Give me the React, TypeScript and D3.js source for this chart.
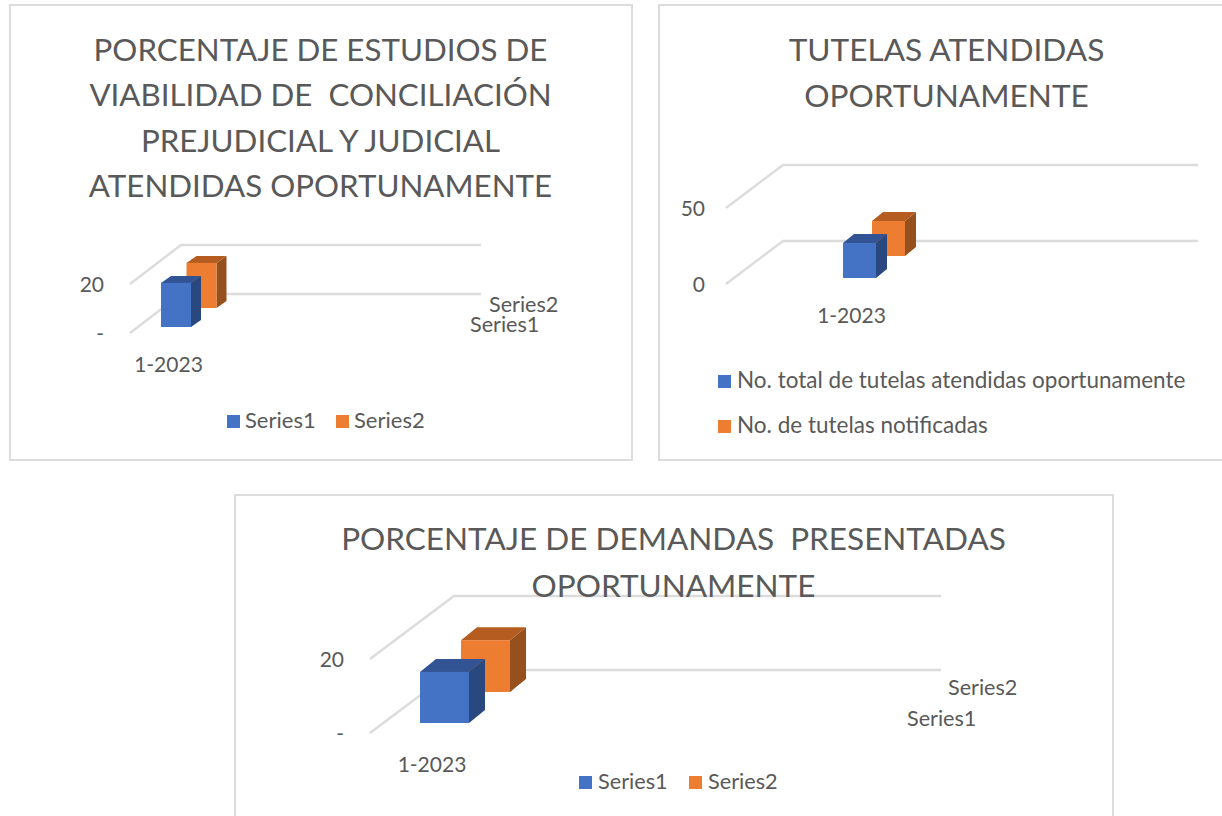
import React from "react";
import * as d3 from "d3";

const categories = ["1-2023"];
const seriesNames1 = ["Series1", "Series2"];
const seriesNames2 = ["No. total de tutelas atendidas oportunamente", "No. de tutelas notificadas"];
const values1 = [18, 18.4];
const values2 = [23, 23];
const values3 = [13.8, 14];
const ticks1 = [0, 20];
const tickLabels1 = ["-", "20"];
const ticks2 = [0, 50];
const tickLabels2 = ["0", "50"];
const ticks3 = [0, 20];
const tickLabels3 = ["-", "20"];
const title1 = ["PORCENTAJE DE ESTUDIOS DE", "VIABILIDAD DE  CONCILIACIÓN", "PREJUDICIAL Y JUDICIAL", "ATENDIDAS OPORTUNAMENTE"];
const title2 = ["TUTELAS ATENDIDAS", "OPORTUNAMENTE"];
const title3 = ["PORCENTAJE DE DEMANDAS  PRESENTADAS", "OPORTUNAMENTE"];

const COLORS = [
  { front: "#4472c4", top: "#325494", side: "#2a4880" },
  { front: "#ed7d31", top: "#b55d21", side: "#96501d" },
];
const FONT = "Lato, Carlito, 'Open Sans', sans-serif";
const GREY = "#595959";
const GRID = "#dcdcdc";

type Cfg = {
  frame: [number, number, number, number];
  title: string[];
  titleCx: number;
  titleY: number;
  titleStep: number;
  titleSize: number;
  values: number[];
  ticks: number[];
  tickLabels: string[];
  tickX: number;
  x0: number;
  yBottom: number;
  yTop: number;
  depthX: number;
  depthY: number;
  xRight: number;
  barX: [number, number];
  barW: number;
  barDepth: [number, number];
  barStep: [number, number];
  floorGap: number;
  catX: number;
  catY: number;
  axisSize: number;
  legendSize: number;
  floating: { t: string; x: number; y: number }[];
  legend: { x: number; y: number; textX: number; name: string; c: number }[];
};

const charts: Cfg[] = [
  {
    frame: [10, 5, 622, 455], title: title1, titleCx: 320.5, titleY: 61, titleStep: 45.4, titleSize: 31.3,
    values: values1, ticks: ticks1, tickLabels: tickLabels1, tickX: 104,
    x0: 130, yBottom: 333, yTop: 284, depthX: 51, depthY: 39, xRight: 481,
    barX: [161, 186.5], barW: 30, barDepth: [10, 7], barStep: [26, 19], floorGap: 6,
    catX: 168.5, catY: 372, axisSize: 21, legendSize: 22,
    floating: [{ t: "Series2", x: 489, y: 312 }, { t: "Series1", x: 470, y: 332 }],
    legend: [
      { x: 227, y: 415, textX: 245, name: seriesNames1[0], c: 0 },
      { x: 336, y: 415, textX: 354, name: seriesNames1[1], c: 1 },
    ],
  },
  {
    frame: [659, 5, 570, 455], title: title2, titleCx: 946.5, titleY: 61, titleStep: 46, titleSize: 31.6,
    values: values2, ticks: ticks2, tickLabels: tickLabels2, tickX: 705,
    x0: 726, yBottom: 284, yTop: 208, depthX: 57, depthY: 43, xRight: 1198,
    barX: [843, 872], barW: 33, barDepth: [11, 9], barStep: [29, 22], floorGap: 6,
    catX: 851.5, catY: 323, axisSize: 21, legendSize: 22.5,
    floating: [],
    legend: [
      { x: 718, y: 375, textX: 737, name: seriesNames2[0], c: 0 },
      { x: 718, y: 420, textX: 737, name: seriesNames2[1], c: 1 },
    ],
  },
  {
    frame: [235, 495, 878, 340], title: title3, titleCx: 673.5, titleY: 550, titleStep: 46.5, titleSize: 31.5,
    values: values3, ticks: ticks3, tickLabels: tickLabels3, tickX: 344,
    x0: 370, yBottom: 733, yTop: 659, depthX: 84, depthY: 63, xRight: 941,
    barX: [420, 461], barW: 49, barDepth: [16, 13], barStep: [41, 31], floorGap: 10,
    catX: 432, catY: 772, axisSize: 21, legendSize: 21.7,
    floating: [{ t: "Series2", x: 948, y: 695 }, { t: "Series1", x: 907, y: 726 }],
    legend: [
      { x: 579, y: 776, textX: 598, name: seriesNames1[0], c: 0 },
      { x: 689, y: 776, textX: 708, name: seriesNames1[1], c: 1 },
    ],
  },
];

function Chart({ c }: { c: Cfg }) {
  const y = d3.scaleLinear().domain(c.ticks).range([c.yBottom, c.yTop]);
  const line = d3.line();
  const unit = c.yBottom - y(1);
  return (
    <g fontFamily={FONT}>
      <rect x={c.frame[0]} y={c.frame[1]} width={c.frame[2]} height={c.frame[3]} fill="#fff" stroke="#dcdcdc" strokeWidth={2} />
      {c.ticks.map((t, i) => {
        const yy = y(t);
        return (
          <g key={t}>
            <path
              d={line([[c.x0, yy], [c.x0 + c.depthX, yy - c.depthY], [c.xRight, yy - c.depthY]]) as string}
              fill="none" stroke={GRID} strokeWidth={2.4}
            />
            <text x={c.tickX} y={yy + 8} textAnchor="end" fontSize={c.axisSize} fill={GREY}>{c.tickLabels[i]}</text>
          </g>
        );
      })}
      {[1, 0].map((s) => {
        const col = COLORS[s];
        const left = c.barX[s];
        const right = left + c.barW;
        const base = c.yBottom - c.floorGap - (s === 1 ? c.barStep[1] : 0);
        const top = base - c.values[s] * unit;
        const [dx, dy] = c.barDepth;
        return (
          <g key={s}>
            <path d={line([[left, top], [left + dx, top - dy], [right + dx, top - dy], [right, top]]) + "Z"} fill={col.top} />
            <path d={line([[right, top], [right + dx, top - dy], [right + dx, base - dy], [right, base]]) + "Z"} fill={col.side} />
            <rect x={left} y={top} width={c.barW} height={base - top} fill={col.front} />
          </g>
        );
      })}
      {categories.map((k) => (
        <text key={k} x={c.catX} y={c.catY} textAnchor="middle" fontSize={c.axisSize} fill={GREY}>{k}</text>
      ))}
      {c.floating.map((f) => (
        <text key={f.t} x={f.x} y={f.y} fontSize={c.axisSize + 0.6} fill={GREY}>{f.t}</text>
      ))}
      {c.legend.map((l) => (
        <g key={l.name}>
          <rect x={l.x} y={l.y} width={13} height={13} fill={COLORS[l.c].front} />
          <text x={l.textX} y={l.y + 13} fontSize={c.legendSize} fill={GREY}>{l.name}</text>
        </g>
      ))}
      {c.title.map((t, i) => (
        <text key={i} x={c.titleCx} y={c.titleY + i * c.titleStep} textAnchor="middle" fontSize={c.titleSize} fill={GREY} xmlSpace="preserve">{t}</text>
      ))}
    </g>
  );
}

export default function App() {
  return (
    <svg width={1222} height={816} style={{ position: "absolute", left: 0, top: 0, background: "#fff" }}>
      {charts.map((c, i) => <Chart key={i} c={c} />)}
    </svg>
  );
}
